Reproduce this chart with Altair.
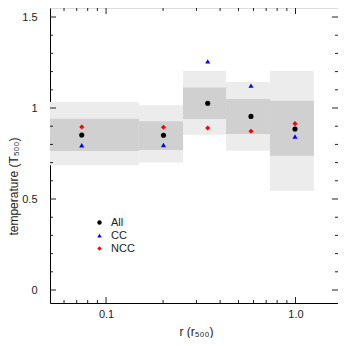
import altair as alt
import pandas as pd

# ---- data ----
r_lo = [0.05, 0.149, 0.255, 0.43, 0.733]
r_hi = [0.149, 0.255, 0.43, 0.733, 1.25]
r_mid = [0.0744, 0.201, 0.344, 0.582, 0.994]

t_all = [0.852, 0.850, 1.026, 0.954, 0.885]
t_cc = [0.795, 0.797, 1.256, 1.123, 0.843]
t_ncc = [0.896, 0.894, 0.890, 0.872, 0.914]

outer_lo = [0.685, 0.700, 0.853, 0.765, 0.546]
outer_hi = [1.033, 1.015, 1.203, 1.143, 1.203]
inner_lo = [0.764, 0.769, 0.939, 0.857, 0.737]
inner_hi = [0.941, 0.927, 1.112, 1.049, 1.040]

x_major = [0.1, 1.0]
x_minor = [0.06, 0.07, 0.08, 0.09, 0.2, 0.3, 0.4, 0.5, 0.6, 0.7, 0.8, 0.9]
y_major = [0.0, 0.5, 1.0, 1.5]
y_minor = [0.1, 0.2, 0.3, 0.4, 0.6, 0.7, 0.8, 0.9, 1.1, 1.2, 1.3, 1.4]

series_names = ["All", "CC", "NCC"]
series_colors = ["#000000", "#0000ff", "#ff0000"]
series_shapes = ["circle", "triangle-up", "diamond"]

# ---- tables ----
bins = pd.DataFrame({"lo": r_lo, "hi": r_hi,
                     "olo": outer_lo, "ohi": outer_hi,
                     "ilo": inner_lo, "ihi": inner_hi})
pts = pd.DataFrame({
    "r": r_mid * 3,
    "t": t_all + t_cc + t_ncc,
    "series": ["All"] * 5 + ["CC"] * 5 + ["NCC"] * 5,
})
xmaj = pd.DataFrame({"v": x_major})
xmin = pd.DataFrame({"v": x_minor})
ymaj = pd.DataFrame({"v": y_major})
ymin = pd.DataFrame({"v": y_minor})

W, H = 288, 295
FONT = "Liberation Sans"
xs = alt.Scale(type="log", domain=[0.0506, 1.676], nice=False)
ys = alt.Scale(domain=[-0.0714, 1.5495], nice=False, zero=False)

x_axis = alt.Axis(values=x_major, format=".1f", ticks=False, tickSize=0,
                  grid=False, labelPadding=5, labelFontSize=11,
                  labelColor="#222", title="r (r₅₀₀)", titleFontSize=12,
                  titleFontWeight="normal", titleColor="#222",
                  titleBaseline="middle", titleX=146, titleY=28,
                  domainColor="black", domainWidth=1)
y_axis = alt.Axis(values=y_major, format=".2~f", ticks=False, tickSize=0,
                  grid=False, labelPadding=13, labelFontSize=11,
                  labelColor="#222", title="temperature (T₅₀₀)",
                  titleFontSize=12, titleFontWeight="normal",
                  titleColor="#222", titleBaseline="middle",
                  titleX=-37, titleY=178, domainColor="black", domainWidth=1)


def X(field):
    return alt.X(field, scale=xs, axis=x_axis)


def Y(field):
    return alt.Y(field, scale=ys, axis=y_axis)


outer = alt.Chart(bins).mark_rect(color="#ececec", clip=True).encode(
    x=X("lo:Q"), x2="hi:Q", y=Y("olo:Q"), y2="ohi:Q",
)
inner = alt.Chart(bins).mark_rect(color="#d0d0d0", clip=True).encode(
    x=X("lo:Q"), x2="hi:Q", y=Y("ilo:Q"), y2="ihi:Q",
)


def xticks(df, length, color):
    bot = alt.Chart(df).mark_rule(color=color, strokeWidth=1).encode(
        x=X("v:Q"), y=alt.value(H), y2=alt.value(H - length))
    top = alt.Chart(df).mark_rule(color=color, strokeWidth=1).encode(
        x=X("v:Q"), y=alt.value(0), y2=alt.value(length))
    return [bot, top]


def yticks(df, length, color):
    left = alt.Chart(df).mark_rule(color=color, strokeWidth=1).encode(
        y=Y("v:Q"), x=alt.value(0), x2=alt.value(length))
    right = alt.Chart(df).mark_rule(color=color, strokeWidth=1).encode(
        y=Y("v:Q"), x=alt.value(W), x2=alt.value(W - length))
    return [left, right]


tick_layers = (xticks(xmaj, 6, "#222") + xticks(xmin, 3, "#222")
               + yticks(ymaj, 6, "#222") + yticks(ymin, 3, "#222"))

points = alt.Chart(pts).mark_point(filled=True, size=26, opacity=1).encode(
    x=X("r:Q"),
    y=Y("t:Q"),
    color=alt.Color("series:N",
                    scale=alt.Scale(domain=series_names, range=series_colors),
                    legend=alt.Legend(orient="none", legendX=44, legendY=209,
                                      title=None, padding=0, symbolSize=20,
                                      labelFontSize=11, labelFont=FONT,
                                      labelColor="#222", labelOffset=6,
                                      rowPadding=1, symbolOpacity=1)),
    shape=alt.Shape("series:N",
                    scale=alt.Scale(domain=series_names, range=series_shapes)),
)

chart = alt.layer(outer, inner, *tick_layers, points).properties(
    width=W, height=H,
    autosize=alt.AutoSizeParams(type="none"),
    padding={"left": 42, "top": 0, "right": 0, "bottom": 35},
).configure_view(
    stroke="#808080", strokeWidth=1,
).configure_axis(
    labelFont=FONT, titleFont=FONT,
).configure(background="white")

chart.save("out.html", embed_options={"renderer": "svg", "actions": False})
